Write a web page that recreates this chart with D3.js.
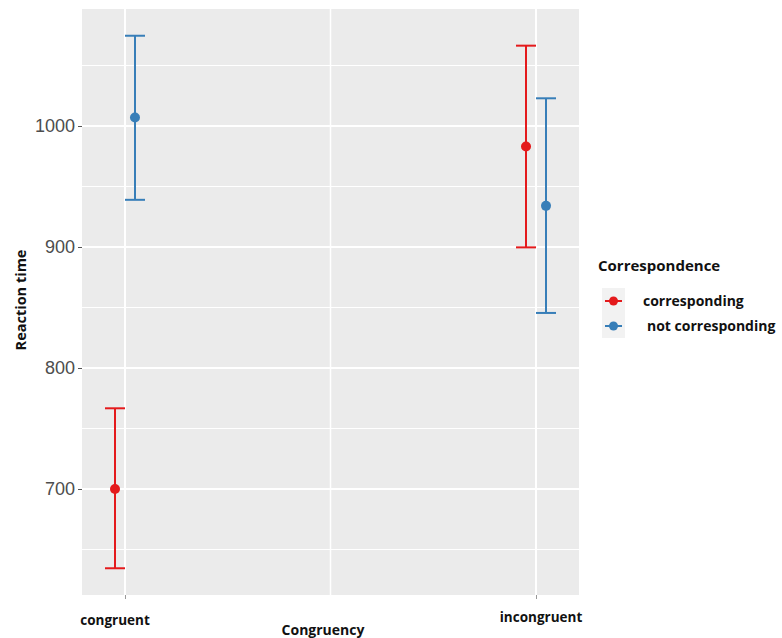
<!DOCTYPE html>
<html>
<head>
<meta charset="utf-8">
<script src="https://cdn.jsdelivr.net/npm/d3@7"></script>
<style>
  body { margin: 0; background: #fff; }
  text { font-family: "Open Sans", "Liberation Sans", sans-serif; }
</style>
</head>
<body>
<div id="chart"></div>
<script>
// data
const categories = ['congruent', 'incongruent'];
const seriesNames = ['corresponding', 'not corresponding'];
const means = {
  'corresponding': [700, 983],
  'not corresponding': [1007, 934]
};
const lowers = {
  'corresponding': [634.5, 899.7],
  'not corresponding': [939, 845.5]
};
const uppers = {
  'corresponding': [766.7, 1066.4],
  'not corresponding': [1074.6, 1022.9]
};
const yTicks = [700, 800, 900, 1000];
const yMinor = [650, 750, 850, 950, 1050];
const colors = ['#E41A1C', '#377EB8'];

const W = 782, H = 638;
const panel = { left: 82, right: 579, top: 9, bottom: 595 };

const svg = d3.select('#chart').append('svg')
  .attr('width', W)
  .attr('height', H);

// x is continuous 1..2 with a little padding, like the original
const x = d3.scaleLinear()
  .domain([0.8954, 2.1046])
  .range([panel.left, panel.right]);

const dodge = d3.scalePoint()
  .domain(seriesNames)
  .range([-10, 10]);

const y = d3.scaleLinear()
  .domain([612.4, 1096.7])
  .range([panel.bottom, panel.top]);

const color = d3.scaleOrdinal().domain(seriesNames).range(colors);

// panel background
svg.append('rect')
  .attr('x', panel.left)
  .attr('y', panel.top)
  .attr('width', panel.right - panel.left)
  .attr('height', panel.bottom - panel.top)
  .attr('fill', '#ebebeb');

const grid = svg.append('g');
grid.selectAll('line.ymin')
  .data(yMinor)
  .enter().append('line')
  .attr('x1', panel.left).attr('x2', panel.right)
  .attr('y1', d => y(d)).attr('y2', d => y(d))
  .attr('stroke', '#fff').attr('stroke-width', 1.2);
grid.selectAll('line.ymaj')
  .data(yTicks)
  .enter().append('line')
  .attr('x1', panel.left).attr('x2', panel.right)
  .attr('y1', d => y(d)).attr('y2', d => y(d))
  .attr('stroke', '#fff').attr('stroke-width', 2);
grid.selectAll('line.xg')
  .data([1, 1.5, 2])
  .enter().append('line')
  .attr('x1', d => x(d)).attr('x2', d => x(d))
  .attr('y1', panel.top).attr('y2', panel.bottom)
  .attr('stroke', '#fff').attr('stroke-width', d => d === 1.5 ? 1.5 : 2);

// Y axis
const yAxis = svg.append('g')
  .attr('transform', `translate(${panel.left},0)`)
  .call(d3.axisLeft(y).tickValues(yTicks).tickFormat(d3.format('d')).tickSize(4).tickPadding(3));
yAxis.select('.domain').remove();
yAxis.selectAll('line').attr('stroke', '#555');
yAxis.selectAll('text')
  .style('font-family', '"Liberation Sans", Arial, sans-serif')
  .style('font-size', '18px')
  .attr('fill', '#4d4d4d');

// X axis
const xAxis = svg.append('g')
  .attr('transform', `translate(0,${panel.bottom})`)
  .call(d3.axisBottom(x).tickValues([1, 2]).tickSize(4).tickFormat(() => ''));
xAxis.select('.domain').remove();
xAxis.selectAll('line').attr('stroke', '#999');

// category labels (shifted, as in the original image)
const labelPos = [{ dx: -10, y: 625 }, { dx: 5, y: 622 }];
svg.selectAll('text.cat')
  .data(categories)
  .enter().append('text')
  .attr('class', 'cat')
  .attr('x', (d, i) => x(i + 1) + labelPos[i].dx)
  .attr('y', (d, i) => labelPos[i].y)
  .attr('text-anchor', 'middle')
  .style('font-size', '13.5px')
  .style('font-weight', 'bold')
  .attr('fill', '#111')
  .text(d => d);

// axis titles
svg.append('text')
  .attr('x', 323)
  .attr('y', 635)
  .attr('text-anchor', 'middle')
  .style('font-size', '14px')
  .style('font-weight', 'bold')
  .attr('fill', '#111')
  .text('Congruency');

svg.append('text')
  .attr('transform', 'rotate(-90)')
  .attr('x', -300)
  .attr('y', 26)
  .attr('text-anchor', 'middle')
  .style('font-size', '14.5px')
  .style('font-weight', 'bold')
  .attr('fill', '#111')
  .text('Reaction time');

// error bars + points
const rows = [];
seriesNames.forEach(s => {
  categories.forEach((c, i) => {
    rows.push({ s, i, mean: means[s][i], lo: lowers[s][i], hi: uppers[s][i] });
  });
});

const marks = svg.append('g');
const cx = d => x(d.i + 1) + dodge(d.s);
marks.selectAll('line.bar')
  .data(rows)
  .enter().append('line')
  .attr('x1', cx).attr('x2', cx)
  .attr('y1', d => y(d.lo)).attr('y2', d => y(d.hi))
  .attr('stroke', d => color(d.s)).attr('stroke-width', 2);
['lo', 'hi'].forEach(k => {
  marks.selectAll('line.cap' + k)
    .data(rows)
    .enter().append('line')
    .attr('x1', d => cx(d) - 10).attr('x2', d => cx(d) + 10)
    .attr('y1', d => y(d[k])).attr('y2', d => y(d[k]))
    .attr('stroke', d => color(d.s)).attr('stroke-width', 2);
});
marks.selectAll('circle')
  .data(rows)
  .enter().append('circle')
  .attr('cx', cx)
  .attr('cy', d => y(d.mean))
  .attr('r', 5)
  .attr('fill', d => color(d.s));

// legend
const legend = svg.append('g');
legend.append('text')
  .attr('x', 598)
  .attr('y', 271)
  .style('font-size', '15px')
  .style('font-weight', 'bold')
  .attr('fill', '#111')
  .text('Correspondence');

legend.append('rect')
  .attr('x', 602).attr('y', 288)
  .attr('width', 23).attr('height', 50)
  .attr('fill', '#f2f2f2');

const keyY = d3.scalePoint().domain(seriesNames).range([301, 326]);
const keys = legend.selectAll('g.key')
  .data(seriesNames)
  .enter().append('g')
  .attr('transform', d => `translate(0,${keyY(d)})`);
keys.append('line')
  .attr('x1', 605).attr('x2', 622)
  .attr('stroke', d => color(d)).attr('stroke-width', 2);
keys.append('circle')
  .attr('cx', 613.5).attr('r', 4.5)
  .attr('fill', d => color(d));
keys.append('text')
  .attr('x', (d, i) => i === 0 ? 643 : 647)
  .attr('y', 5)
  .style('font-size', '14px')
  .style('font-weight', 'bold')
  .attr('fill', '#111')
  .text(d => d);
</script>
</body>
</html>
